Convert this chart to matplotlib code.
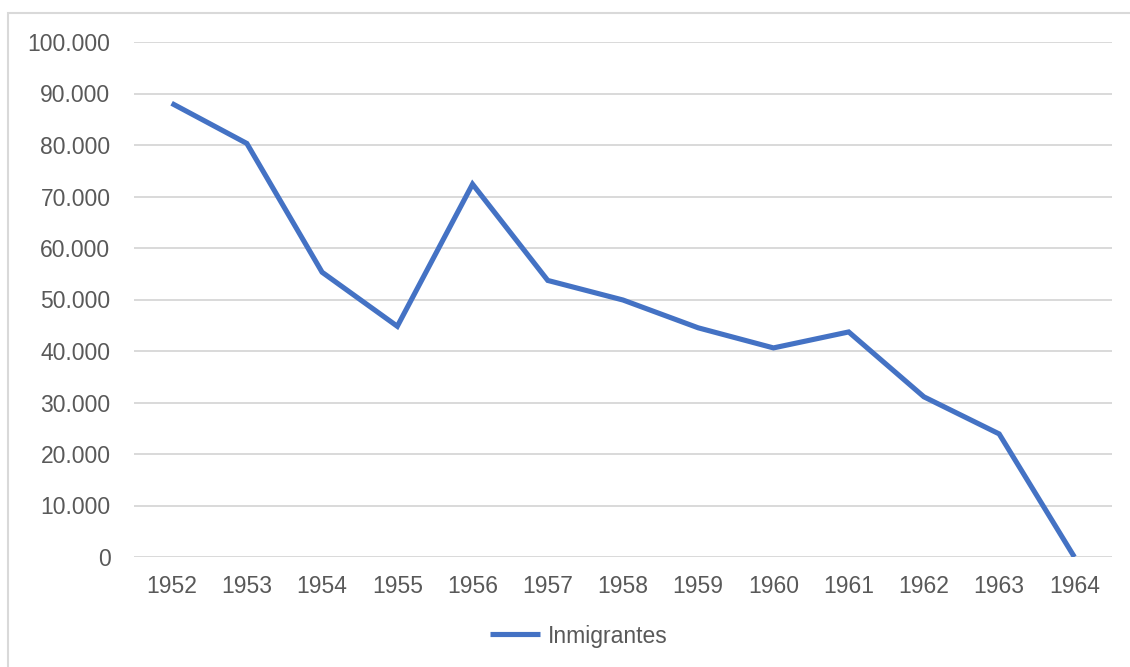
import matplotlib

matplotlib.use("Agg")
import matplotlib.pyplot as plt
from matplotlib.patches import Rectangle
from matplotlib.ticker import FuncFormatter

years = ["1952", "1953", "1954", "1955", "1956", "1957", "1958",
         "1959", "1960", "1961", "1962", "1963", "1964"]
inmigrantes = [88100, 80300, 55300, 44800, 72400, 53700, 49900,
               44500, 40600, 43700, 31100, 23900, 0]
series_name = "Inmigrantes"

TEXT = "#595959"
GRID = "#D9D9D9"
BLUE = "#4472C4"

plt.rcParams["font.family"] = ["Liberation Sans", "DejaVu Sans"]

fig = plt.figure(figsize=(11.3, 6.67), dpi=100)

# outer chart frame (cut off on the right and bottom in the reference)
fig.patches.append(
    Rectangle((8 / 1130, -0.01), 1.1, 1 - 13 / 667 + 0.01,
              transform=fig.transFigure, fill=False,
              edgecolor=GRID, linewidth=1.5)
)

ax = fig.add_axes([134 / 1130, 1 - 557 / 667, (1112 - 134) / 1130, (557 - 42) / 667])

x = list(range(len(years)))
ax.plot(x, inmigrantes, color=BLUE, linewidth=3.7, label=series_name,
        solid_joinstyle="miter", solid_capstyle="butt")

ax.set_xlim(-0.5, len(years) - 0.5)
ax.set_ylim(0, 100000)
ax.set_yticks(range(0, 100001, 10000))
ax.yaxis.set_major_formatter(
    FuncFormatter(lambda v, p: f"{int(v):,}".replace(",", "."))
)
ax.set_xticks(x)
ax.set_xticklabels(years)

ax.grid(axis="y", color=GRID, linewidth=1.4)
ax.set_axisbelow(True)
for s in ax.spines.values():
    s.set_visible(False)
ax.tick_params(axis="both", length=0, labelsize=16.5, colors=TEXT)
ax.tick_params(axis="y", pad=17)
ax.tick_params(axis="x", pad=13)

leg = fig.legend(loc="center", bbox_to_anchor=(579 / 1130, 1 - 636 / 667),
                 frameon=False, fontsize=16.5, handlelength=2.2,
                 handletextpad=0.35, borderpad=0, borderaxespad=0)
for t in leg.get_texts():
    t.set_color(TEXT)

fig.savefig("out.png", dpi=100)
